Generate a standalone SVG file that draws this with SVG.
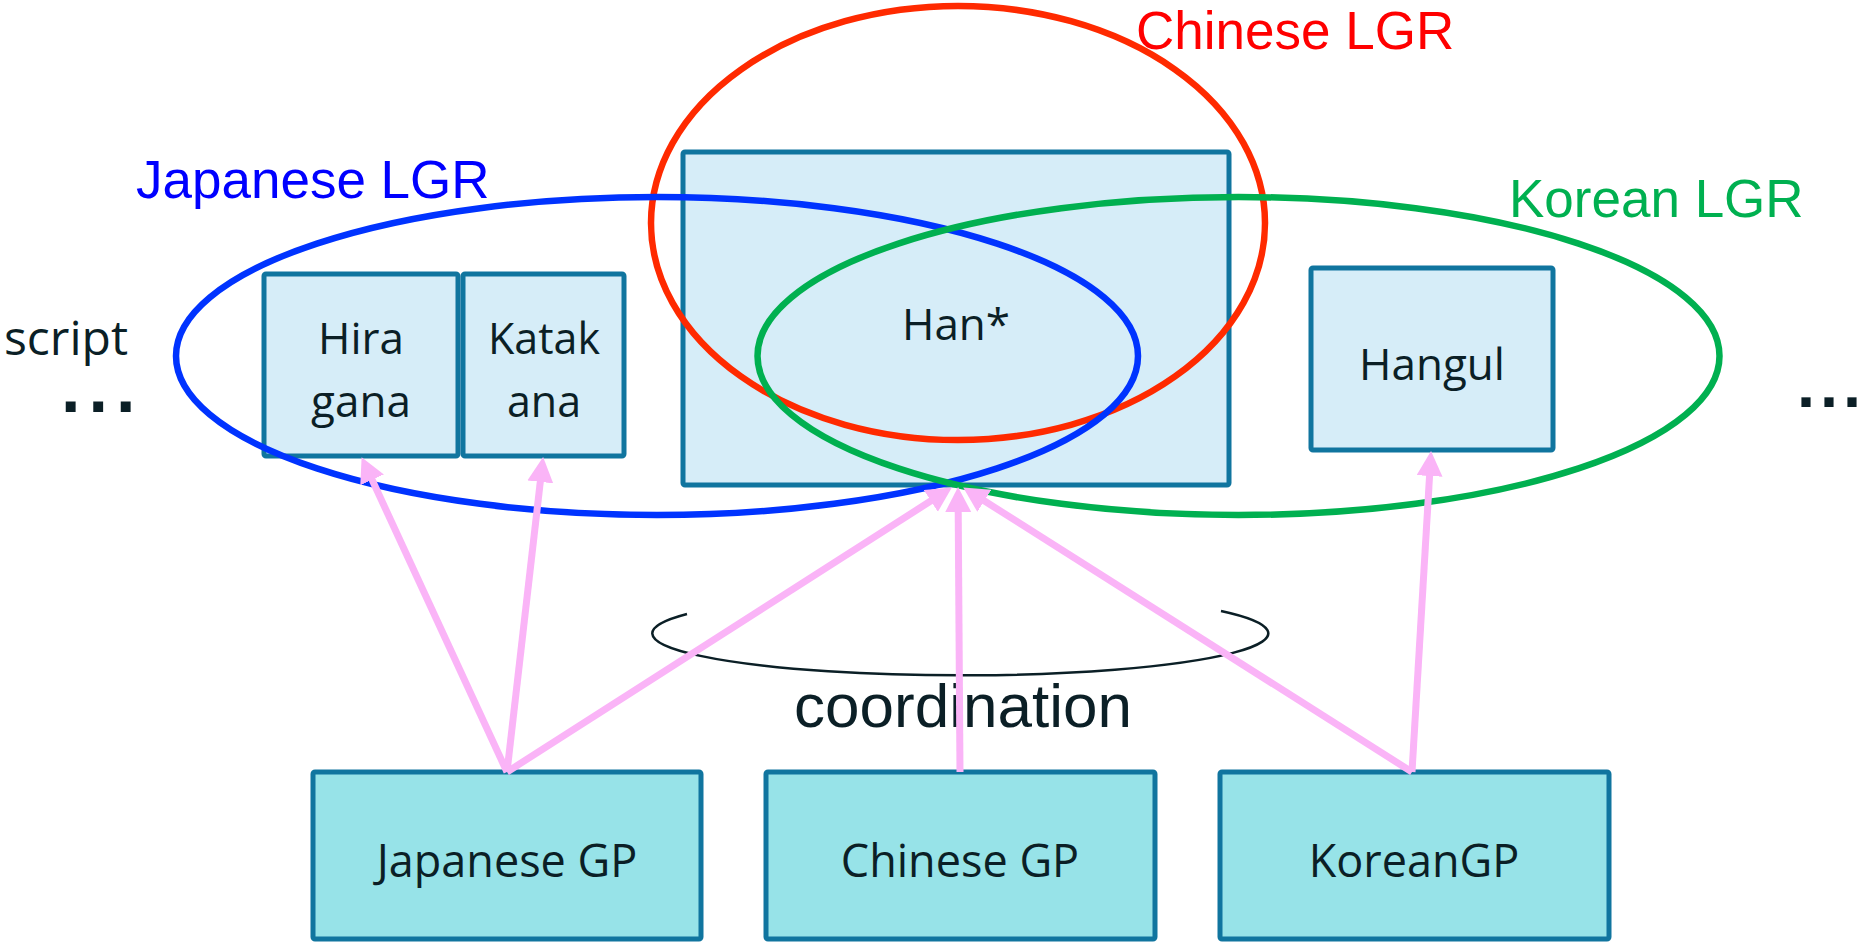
<svg xmlns="http://www.w3.org/2000/svg" width="1865" height="944" viewBox="0 0 1865 944">
<style>
.box{fill:#D6EDF8;stroke:#10759F;stroke-width:5}
.gp{fill:#97E3E8;stroke:#10759F;stroke-width:5}
.t{font-family:"Open Sans","Noto Sans",sans-serif;fill:#0B1F26;text-anchor:middle}
.lgr{font-family:"Liberation Sans",Arial,sans-serif;font-size:53px}
.arr{stroke:#FAB4F7;stroke-width:7;fill:none;marker-end:url(#ah)}
.dots{font-family:"Liberation Sans",Arial,sans-serif;font-weight:bold;fill:#0B1F26}
</style>
<defs>
<marker id="ah" markerUnits="userSpaceOnUse" markerWidth="27" markerHeight="27" refX="16" refY="13" orient="auto">
<path d="M0,0 L25,13 L0,26 Z" fill="#FAB4F7"/>
</marker>
</defs>
<rect width="1865" height="944" fill="#FFFFFF"/>
<g id="node-han"><rect class="box" x="683" y="152" width="546" height="333" rx="2"/><text class="t" x="956" y="340" font-size="44">Han*</text></g>
<g id="node-hiragana"><rect class="box" x="264" y="274" width="194" height="182" rx="2"/><text class="t" x="361" y="354" font-size="44">Hira</text><text class="t" x="361" y="417" font-size="44">gana</text></g>
<g id="node-katakana"><rect class="box" x="463" y="274" width="161" height="182" rx="2"/><text class="t" x="544" y="354" font-size="43">Katak</text><text class="t" x="544" y="417" font-size="43">ana</text></g>
<g id="node-hangul"><rect class="box" x="1311" y="268" width="242" height="182" rx="2"/><text class="t" x="1432" y="380" font-size="44">Hangul</text></g>
<g id="lgr-chinese"><ellipse cx="958" cy="223" rx="307" ry="217" fill="none" stroke="#FF2A00" stroke-width="6.5"/><text class="lgr" x="1136" y="49" fill="#FF0000">Chinese LGR</text></g>
<g id="lgr-japanese"><ellipse cx="657" cy="356" rx="481" ry="159" fill="none" stroke="#0033FF" stroke-width="6.5"/><text class="lgr" x="136" y="198" fill="#0000FF">Japanese LGR</text></g>
<g id="lgr-korean"><ellipse cx="1238.5" cy="356" rx="481" ry="159" fill="none" stroke="#00B050" stroke-width="6.5"/><text class="lgr" x="1509" y="217" fill="#00B050">Korean LGR</text></g>
<g id="label-script"><text class="t" x="66" y="355" font-size="48">script</text></g>
<text class="dots" x="61" y="412" font-size="70" letter-spacing="8">...</text>
<text class="dots" x="1797" y="407" font-size="65" letter-spacing="5">...</text>
<g id="node-japanese-gp"><rect class="gp" x="313" y="772" width="388" height="167" rx="2"/><text class="t" x="507" y="877" font-size="45">Japanese GP</text></g>
<g id="node-chinese-gp"><rect class="gp" x="766" y="772" width="389" height="167" rx="2"/><text class="t" x="960" y="877" font-size="45">Chinese GP</text></g>
<g id="node-korean-gp"><rect class="gp" x="1220" y="772" width="389" height="167" rx="2"/><text class="t" x="1414" y="877" font-size="45">KoreanGP</text></g>
<g id="coordination"><path d="M687,614 A308,42 0 1 0 1221,611" fill="none" stroke="#0B1F26" stroke-width="2.5"/><text x="963" y="727" font-family="Liberation Sans, Arial, sans-serif" font-size="62" fill="#0B1F26" text-anchor="middle">coordination</text></g>
<g id="connectors">
<line class="arr" x1="507" y1="772" x2="365.4" y2="465.3"/>
<line class="arr" x1="507" y1="772" x2="542.1" y2="466"/>
<line class="arr" x1="507" y1="772" x2="944.3" y2="492.3"/>
<line class="arr" x1="960" y1="772" x2="958.1" y2="496"/>
<line class="arr" x1="1412" y1="772" x2="970.8" y2="492.3"/>
<line class="arr" x1="1412" y1="772" x2="1430.5" y2="460"/>
</g>
</svg>
